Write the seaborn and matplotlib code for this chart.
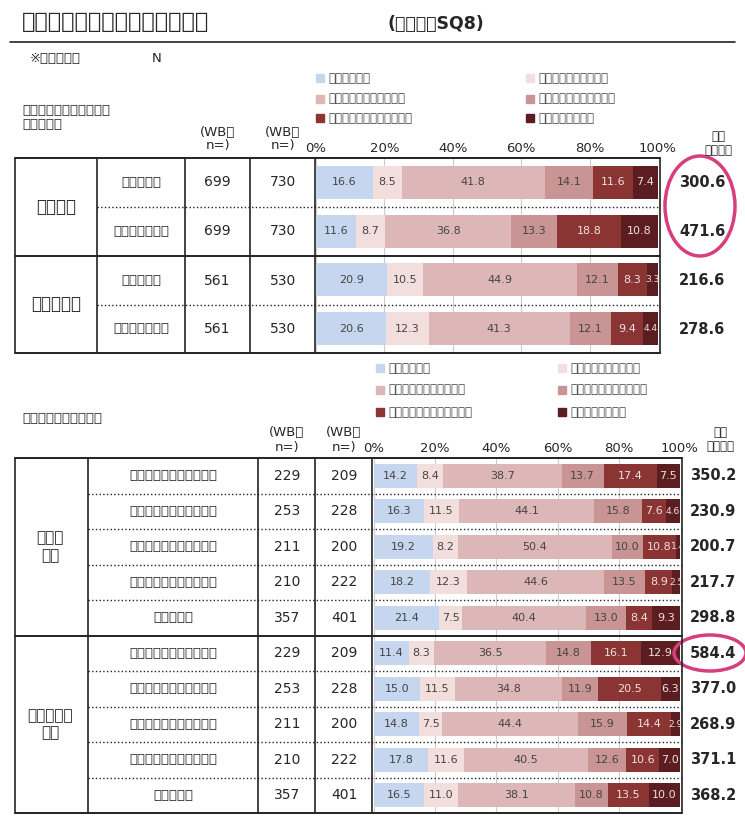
import matplotlib
matplotlib.use("Agg")
import matplotlib.pyplot as plt
import seaborn as sns
import pandas as pd
import numpy as np
from matplotlib.lines import Line2D
from matplotlib.patches import Ellipse, Rectangle

plt.rcParams["font.family"] = "Noto Sans CJK JP"

series = ["５０万円未満", "５０～１００万円未満", "１００～３００万円未満", "３００～５００万円未満", "５００～１０００万円未満", "１０００万円以上"]
colors = ["#c6d6ee", "#f3dede", "#ddb7b7", "#c99494", "#8a3434", "#5b1d20"]
txtcol = ["#444", "#444", "#444", "#444", "#f0e0e0", "#f0e0e0"]

top_groups = ["一戸建て", "マンション"]
top_labels = ["検討時予算", "リフォーム費用", "検討時予算", "リフォーム費用"]
top_wb_before = [699, 699, 561, 561]
top_wb_after = [730, 730, 530, 530]
top_values = [
    [16.6, 8.5, 41.8, 14.1, 11.6, 7.4],
    [11.6, 8.7, 36.8, 13.3, 18.8, 10.8],
    [20.9, 10.5, 44.9, 12.1, 8.3, 3.3],
    [20.6, 12.3, 41.3, 12.1, 9.4, 4.4],
]
top_avg = [300.6, 471.6, 216.6, 278.6]

bot_groups = ["検討時\n予算", "リフォーム\n費用"]
bot_labels = ["１０年以上～１５年未満", "１５年以上～２０年未満", "２０年以上～２５年未満", "２５年以上～３０年未満", "３０年以上"] * 2
bot_wb_before = [229, 253, 211, 210, 357] * 2
bot_wb_after = [209, 228, 200, 222, 401] * 2
bot_values = [
    [14.2, 8.4, 38.7, 13.7, 17.4, 7.5],
    [16.3, 11.5, 44.1, 15.8, 7.6, 4.6],
    [19.2, 8.2, 50.4, 10.0, 10.8, 1.4],
    [18.2, 12.3, 44.6, 13.5, 8.9, 2.5],
    [21.4, 7.5, 40.4, 13.0, 8.4, 9.3],
    [11.4, 8.3, 36.5, 14.8, 16.1, 12.9],
    [15.0, 11.5, 34.8, 11.9, 20.5, 6.3],
    [14.8, 7.5, 44.4, 15.9, 14.4, 2.9],
    [17.8, 11.6, 40.5, 12.6, 10.6, 7.0],
    [16.5, 11.0, 38.1, 10.8, 13.5, 10.0],
]
bot_avg = [350.2, 230.9, 200.7, 217.7, 298.8, 584.4, 377.0, 268.9, 371.1, 368.2]
ticks = [0, 20, 40, 60, 80, 100]

W, H = 745, 825
fig = plt.figure(figsize=(W / 100, H / 100), dpi=100)
fig.patch.set_facecolor("white")

def fx(x): return x / W
def fy(y): return 1 - y / H
def line(x0, y0, x1, y1, lw=1.0, c="#222", ls="-"):
    fig.add_artist(Line2D([fx(x0), fx(x1)], [fy(y0), fy(y1)], lw=lw, color=c, ls=ls))
def text(x, y, s, size=9.5, ha="center", weight="normal", **kw):
    fig.text(fx(x), fy(y), s, fontsize=size, ha=ha, va="center", weight=weight, **kw)

def bars(ax, values, nrows):
    rows = []
    for i, v in enumerate(values):
        left = 0
        for j, val in enumerate(v):
            rows.append(dict(row=i, s=series[j], val=val, left=left))
            left += val
    df = pd.DataFrame(rows)
    for j, s in enumerate(series):
        d = df[df.s == s]
        ax.barh(d.row, d.val, left=d.left, height=0.68, color=colors[j], lw=0)
        for _, r in d.iterrows():
            fs = 8 if r.val >= 5 else 6.5
            ax.text(r.left + r.val / 2, r.row, f"{r.val:.1f}", ha="center", va="center",
                    fontsize=fs, color=txtcol[j], family="DejaVu Sans")
    ax.set_xlim(0, 100)
    ax.set_ylim(nrows - 0.5, -0.5)
    ax.set_yticks([])
    ax.set_xticks(ticks)
    ax.set_xticklabels([f"{t}%" for t in ticks], fontsize=9.5)
    ax.xaxis.tick_top()
    ax.tick_params(axis="x", length=0, pad=2)
    ax.grid(axis="x", color="#cccccc", lw=0.8)
    ax.set_axisbelow(True)
    for sp in ax.spines.values():
        sp.set_visible(False)

sns.set_style("white")
text(22, 22, "実施者のリフォーム予算・費用", size=16, ha="left", weight="bold")
text(388, 24, "(実施者：SQ8)", size=12.5, ha="left", weight="bold")
line(10, 42, 735, 42, lw=1.2)
text(30, 58, "※全体ベース", size=9.5, ha="left")
text(152, 58, "N", size=9.5, ha="left")

def legend(x0, x1, ys):
    pos = [(x0, ys[0]), (x1, ys[0]), (x0, ys[1]), (x1, ys[1]), (x0, ys[2]), (x1, ys[2])]
    for (x, y), s, c in zip(pos, series, colors):
        fig.add_artist(Rectangle((fx(x), fy(y + 4)), fx(8), 8 / H, color=c))
        text(x + 12, y, s, size=8.5, ha="left", color="#444")

legend(316, 526, [78, 99, 118])
text(22, 118, "一戸建て･マンション別\n（実施者）", size=9.5, ha="left", linespacing=1.1)
text(218, 139, "(WB前\nn=)", size=9.5, linespacing=1.1)
text(283, 139, "(WB後\nn=)", size=9.5, linespacing=1.1)
text(718, 143, "平均\n（万円）", size=8.5, linespacing=1.1)
ax1 = fig.add_axes([fx(316), fy(353), fx(658) - fx(316), (353 - 158) / H])
bars(ax1, top_values, 4)
tb = [158, 207, 256, 305, 353]
line(15, 158, 660, 158, lw=1.4)
line(15, 353, 660, 353, lw=1.4)
line(15, 256, 660, 256, lw=1.4)
line(97, 207, 660, 207, lw=1, ls=":")
line(97, 305, 660, 305, lw=1, ls=":")
for x in [15, 97, 185, 250, 315, 660]:
    line(x, 158, x, 353, lw=1.2)
for g, gi in zip(top_groups, [0, 2]):
    text(56, (tb[gi] + tb[gi + 2]) / 2, g, size=12)
for i in range(4):
    cy = (tb[i] + tb[i + 1]) / 2
    text(141, cy, top_labels[i], size=9.5)
    text(217, cy, str(top_wb_before[i]), size=10)
    text(283, cy, str(top_wb_after[i]), size=10)
    text(702, cy, f"{top_avg[i]:.1f}", size=10.5, weight="bold")

legend(376, 558, [368, 390, 412])
text(22, 418, "築後年数別（実施者）", size=9.5, ha="left")
text(287, 440, "(WB前\nn=)", size=9.5, linespacing=1.1)
text(344, 440, "(WB後\nn=)", size=9.5, linespacing=1.1)
text(720, 440, "平均\n（万円）", size=8.5, linespacing=1.1)
bb = [458 + i * 35.5 for i in range(11)]
ax2 = fig.add_axes([fx(374), fy(bb[-1]), fx(680) - fx(374), (bb[-1] - bb[0]) / H])
bars(ax2, bot_values, 10)
line(15, bb[0], 682, bb[0], lw=1.4)
line(15, bb[-1], 682, bb[-1], lw=1.4)
line(15, bb[5], 682, bb[5], lw=1.4)
for i in [1, 2, 3, 4, 6, 7, 8, 9]:
    line(88, bb[i], 682, bb[i], lw=1, ls=":")
for x in [15, 88, 258, 315, 372, 682]:
    line(x, bb[0], x, bb[-1], lw=1.2)
for g, gi in zip(bot_groups, [0, 5]):
    text(50, (bb[gi] + bb[gi + 5]) / 2, g, size=11, linespacing=1.2)
for i in range(10):
    cy = (bb[i] + bb[i + 1]) / 2
    text(173, cy, bot_labels[i], size=9.5)
    text(287, cy, str(bot_wb_before[i]), size=10)
    text(344, cy, str(bot_wb_after[i]), size=10)
    text(713, cy, f"{bot_avg[i]:.1f}", size=10.5, weight="bold")

fig.add_artist(Ellipse((fx(700), fy(206)), 70 / W, 100 / H, fill=False, ec="#d63f7b", lw=2.5))
fig.add_artist(Ellipse((fx(710), fy(653)), 72 / W, 36 / H, fill=False, ec="#d63f7b", lw=2.5))

fig.savefig("out.png", dpi=100)
